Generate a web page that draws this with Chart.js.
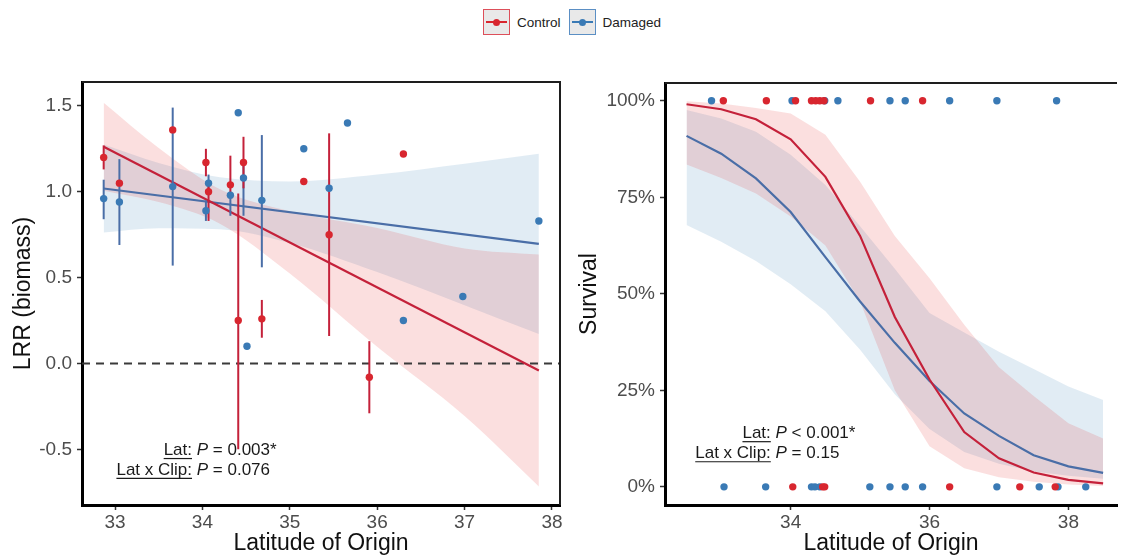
<!DOCTYPE html>
<html lang="en">
<head>
<meta charset="utf-8">
<title>Biomass response and survival by latitude of origin</title>
<script src="https://cdn.jsdelivr.net/npm/chart.js@4.4.1/dist/chart.umd.min.js"></script>
<style>
  html, body { margin: 0; padding: 0; background: #fff; }
  body { position: relative; width: 1121px; height: 558px; overflow: hidden; font-family: "Liberation Sans", Arial, sans-serif; }
  #lrr { position: absolute; left: 0; top: 60px; }
  #surv { position: absolute; left: 565px; top: 60px; }
  #legend { position: absolute; left: 483px; top: 9px; display: flex; align-items: center; height: 26px; }
  .key { position: relative; box-sizing: border-box; width: 27px; height: 26px; border: 1.5px solid; background: #e9e9e9; margin-right: 7px; }
  .key i { position: absolute; left: 2px; right: 2px; top: 50%; height: 2px; margin-top: -1px; }
  .key b { position: absolute; left: 50%; top: 50%; width: 7px; height: 7px; margin: -3.5px 0 0 -3.5px; border-radius: 50%; }
  .lab { font-size: 13.5px; color: #222; margin-right: 8px; }
</style>
</head>
<body>
<div id="legend">
  <span class="key" id="keyCtrl"><i></i><b></b></span><span class="lab">Control</span>
  <span class="key" id="keyDmg"><i></i><b></b></span><span class="lab">Damaged</span>
</div>
<canvas id="lrr" width="575" height="498"></canvas>
<canvas id="surv" width="556" height="498"></canvas>
<script>
// --- LRR (biomass) per site, with error bar limits (null = no bar) ---
const ctrlLat = [32.87, 33.05, 33.66, 34.04, 34.07, 34.32, 34.41, 34.47, 34.68, 35.16, 35.45, 35.91, 36.30];
const ctrlLRR = [1.20, 1.05, 1.36, 1.17, 1.00, 1.04, 0.25, 1.17, 0.26, 1.06, 0.75, -0.08, 1.22];
const ctrlLo  = [1.13, null, null, 1.09, 0.83, 0.98, -0.50, 1.02, 0.15, null, 0.16, -0.29, null];
const ctrlHi  = [1.27, null, null, 1.25, 1.06, 1.21, 0.99, 1.32, 0.37, null, 1.34, 0.13, null];

const dmgLat = [32.87, 33.05, 33.66, 34.04, 34.07, 34.32, 34.41, 34.47, 34.51, 34.68, 35.16, 35.45, 35.66, 36.30, 36.98, 37.85];
const dmgLRR = [0.96, 0.94, 1.03, 0.89, 1.05, 0.98, 1.46, 1.08, 0.10, 0.95, 1.25, 1.02, 1.40, 0.25, 0.39, 0.83];
const dmgLo  = [0.84, 0.69, 0.57, 0.83, 0.99, 0.86, null, 0.86, null, 0.56, null, null, null, null, null, null];
const dmgHi  = [1.07, 1.19, 1.49, 0.95, 1.10, 1.00, null, 1.16, null, 1.33, null, null, null, null, null, null];

// linear fits and their confidence bands
const fitLat  = [32.87, 37.85];
const ctrlFit = [1.262, -0.041];
const dmgFit  = [1.019, 0.696];
const bandLat    = [32.87, 33.5, 34.2, 35.0, 36.0, 37.0, 37.85];
const ctrlBandHi = [1.518, 1.254, 1.014, 0.886, 0.789, 0.670, 0.634];
const ctrlBandLo = [1.006, 0.940, 0.814, 0.524, 0.097, -0.306, -0.716];
const dmgBandHi  = [1.275, 1.168, 1.084, 1.060, 1.100, 1.163, 1.221];
const dmgBandLo  = [0.763, 0.788, 0.782, 0.702, 0.532, 0.339, 0.171];

// --- survival: individual outcomes (survived / died) by latitude ---
const ctrlAlive = [33.03, 33.65, 34.07, 34.30, 34.36, 34.42, 34.48, 35.15, 35.90];
const ctrlDead  = [34.03, 34.46, 34.49, 36.29, 37.30, 37.81];
const dmgAlive  = [32.86, 34.02, 34.49, 34.68, 35.43, 35.65, 36.29, 36.97, 37.83];
const dmgDead   = [33.04, 33.64, 34.30, 34.35, 34.42, 35.14, 35.43, 35.65, 35.90, 36.97, 37.58, 37.85, 38.25];

// predicted survival (%) with confidence bands
const survLat     = [32.5, 33, 33.5, 34, 34.5, 35, 35.5, 36, 36.5, 37, 37.5, 38, 38.5];
const ctrlSurv    = [99.1, 97.8, 95.2, 90.0, 80.3, 65.0, 44.0, 27.8, 14.2, 7.4, 3.7, 1.8, 0.9];
const ctrlSurvHi  = [99.9, 99.3, 98.1, 96.7, 91.2, 79.0, 65.0, 54.0, 42.0, 31.0, 23.5, 16.5, 12.5];
const ctrlSurvLo  = [83.5, 80.0, 76.0, 70.0, 62.5, 48.0, 25.0, 10.5, 4.8, 2.5, 1.3, 0.6, 0.25];
const dmgSurv     = [90.9, 86.3, 79.9, 71.2, 59.5, 48.0, 37.3, 27.4, 19.0, 13.2, 8.2, 5.3, 3.6];
const dmgSurvHi   = [97.6, 95.4, 92.0, 86.0, 78.2, 67.5, 56.5, 45.0, 40.0, 35.0, 30.5, 26.0, 22.5];
const dmgSurvLo   = [67.8, 63.5, 58.5, 52.5, 45.5, 35.5, 24.0, 15.0, 9.0, 6.0, 4.0, 2.9, 2.1];

// axis ticks
const lrrLatTicks  = [33, 34, 35, 36, 37, 38];
const lrrTicks     = [-0.5, 0, 0.5, 1, 1.5];
const survLatTicks = [34, 36, 38];
const survTicks    = [0, 25, 50, 75, 100];

// model test results
const lrrStats  = [['Lat:', '= 0.003*'], ['Lat x Clip:', '= 0.076']];
const survStats = [['Lat:', '< 0.001*'], ['Lat x Clip:', '= 0.15']];

const RED = '#d8262f', BLUE = '#3a7ab5';
const RED_LINE = '#c4213a', BLUE_LINE = '#4a6ea7';
const RED_FILL = 'rgba(228,26,28,0.14)', BLUE_FILL = 'rgba(55,126,184,0.15)';
const FAMILY = '"Liberation Sans", Arial, sans-serif';
const NOTE_FONT = '17px ' + FAMILY;

document.querySelector('#keyCtrl').style.borderColor = '#dd4f5a';
document.querySelector('#keyCtrl i').style.background = RED;
document.querySelector('#keyCtrl b').style.background = RED;
document.querySelector('#keyDmg').style.borderColor = '#5b8fc4';
document.querySelector('#keyDmg i').style.background = BLUE;
document.querySelector('#keyDmg b').style.background = BLUE;

const pts = (xs, ys) => xs.map((v, i) => ({x: v, y: ys[i]}));
const flat = (xs, val) => xs.map(v => ({x: v, y: val}));

function axis(o) {
  return {
    type: 'linear',
    min: o.min, max: o.max,
    afterBuildTicks: s => { s.ticks = o.ticks.map(v => ({value: v})); },
    afterFit: s => { if (s.isHorizontal()) s.height = o.size; else s.width = o.size; },
    border: {display: true, color: '#000', width: 3},
    grid: {drawOnChartArea: false, drawTicks: true, tickLength: 5, tickColor: '#333', tickWidth: 1.5},
    ticks: {color: '#4d4d4d', font: {family: FAMILY, size: 19}, padding: o.pad, callback: o.fmt, autoSkip: false, maxRotation: 0},
    title: {display: true, text: o.title, color: '#111', font: {family: FAMILY, size: 23}, padding: o.titlePad}
  };
}

function pointSet(label, data, color, order) {
  return {label, data, showLine: false, pointRadius: 3.7, pointBackgroundColor: color, pointBorderWidth: 0, order};
}
function lineSet(label, data, color, order, smooth) {
  return {label, data, borderColor: color, borderWidth: 2.2, pointRadius: 0, fill: false, order,
          cubicInterpolationMode: smooth ? 'monotone' : 'default', tension: 0};
}
function bandSet(label, data, fillColor, order, upper, smooth) {
  return {label, data, borderWidth: 0, borderColor: 'rgba(0,0,0,0)', pointRadius: 0, order,
          fill: upper ? '+1' : false, backgroundColor: fillColor,
          cubicInterpolationMode: smooth ? 'monotone' : 'default', tension: 0};
}

// vertical error bars, all drawn just before the first point layer
function errorBars(firstIndex, sets) {
  return {
    id: 'errorBars',
    beforeDatasetDraw(chart, args) {
      if (args.index !== firstIndex) return;
      const {ctx, scales: {x, y}} = chart;
      ctx.save();
      ctx.lineWidth = 2;
      sets.forEach(s => {
        ctx.strokeStyle = s.color;
        s.lat.forEach((lat, i) => {
          if (s.lo[i] == null) return;
          const px = x.getPixelForValue(lat);
          ctx.beginPath();
          ctx.moveTo(px, y.getPixelForValue(s.lo[i]));
          ctx.lineTo(px, y.getPixelForValue(s.hi[i]));
          ctx.stroke();
        });
      });
      ctx.restore();
    }
  };
}

// dashed reference line at LRR = 0
function zeroLine(beforeIndex) {
  return {
    id: 'zeroLine',
    beforeDatasetDraw(chart, args) {
      if (args.index !== beforeIndex) return;
      const {ctx, chartArea: a, scales: {y}} = chart;
      const py = y.getPixelForValue(0);
      ctx.save();
      ctx.strokeStyle = '#3a3a3a';
      ctx.lineWidth = 1.8;
      ctx.setLineDash([8, 6]);
      ctx.beginPath();
      ctx.moveTo(a.left, py);
      ctx.lineTo(a.right, py);
      ctx.stroke();
      ctx.restore();
    }
  };
}

// thin panel border on the top (and right) sides
function frame(withRight) {
  return {
    id: 'frame',
    afterDraw(chart) {
      const {ctx, chartArea: a} = chart;
      ctx.save();
      ctx.strokeStyle = '#1e1e1e';
      ctx.lineWidth = 2;
      ctx.beginPath();
      ctx.moveTo(a.left, a.top);
      ctx.lineTo(a.right, a.top);
      if (withRight) ctx.lineTo(a.right, a.bottom);
      ctx.stroke();
      ctx.restore();
    }
  };
}

// "term: P = value" lines, aligned on the colon
function statNotes(anchorX, rowsY, rows) {
  return {
    id: 'statNotes',
    afterDraw(chart) {
      const {ctx, scales: {x, y}} = chart;
      const ax = x.getPixelForValue(anchorX);
      ctx.save();
      ctx.fillStyle = '#1a1a1a';
      ctx.strokeStyle = '#1a1a1a';
      ctx.lineWidth = 1.2;
      ctx.textBaseline = 'middle';
      rows.forEach(([term, value], i) => {
        const py = y.getPixelForValue(rowsY[i]);
        ctx.font = NOTE_FONT;
        ctx.textAlign = 'right';
        const w = ctx.measureText(term).width;
        ctx.fillText(term, ax, py);
        ctx.beginPath();
        ctx.moveTo(ax - w, py + 8.5);
        ctx.lineTo(ax, py + 8.5);
        ctx.stroke();
        ctx.textAlign = 'left';
        let cx = ax + ctx.measureText(' ').width;
        ctx.font = 'italic ' + NOTE_FONT;
        ctx.fillText('P', cx, py);
        cx += ctx.measureText('P').width;
        ctx.font = NOTE_FONT;
        ctx.fillText(' ' + value, cx, py);
      });
      ctx.restore();
    }
  };
}

const common = {
  responsive: false,
  animation: false,
  devicePixelRatio: 1,
  events: [],
  plugins: {legend: {display: false}, tooltip: {enabled: false}}
};

new Chart(document.getElementById('lrr'), {
  type: 'line',
  data: {
    datasets: [
      pointSet('Control', pts(ctrlLat, ctrlLRR), RED, 1),
      pointSet('Damaged', pts(dmgLat, dmgLRR), BLUE, 2),
      lineSet('Control fit', pts(fitLat, ctrlFit), RED_LINE, 3, false),
      lineSet('Damaged fit', pts(fitLat, dmgFit), BLUE_LINE, 4, false),
      bandSet('Control upper', pts(bandLat, ctrlBandHi), RED_FILL, 5, true, true),
      bandSet('Control lower', pts(bandLat, ctrlBandLo), RED_FILL, 6, false, true),
      bandSet('Damaged upper', pts(bandLat, dmgBandHi), BLUE_FILL, 7, true, true),
      bandSet('Damaged lower', pts(bandLat, dmgBandLo), BLUE_FILL, 8, false, true)
    ]
  },
  options: {
    ...common,
    layout: {padding: {top: 22, right: 15, left: 0, bottom: 0}},
    scales: {
      x: axis({min: 32.622, max: 38.092, ticks: lrrLatTicks, size: 53, pad: 1, fmt: v => String(v),
               title: 'Latitude of Origin', titlePad: {bottom: 1}}),
      y: axis({min: -0.824, max: 1.639, ticks: lrrTicks, size: 82, pad: 5, fmt: v => v.toFixed(1),
               title: 'LRR (biomass)', titlePad: {top: 10}})
    }
  },
  plugins: [
    errorBars(1, [
      {lat: dmgLat, lo: dmgLo, hi: dmgHi, color: BLUE_LINE},
      {lat: ctrlLat, lo: ctrlLo, hi: ctrlHi, color: RED_LINE}
    ]),
    zeroLine(3),
    frame(true),
    statNotes(33.881, [-0.504, -0.620], lrrStats)
  ]
});

new Chart(document.getElementById('surv'), {
  type: 'line',
  data: {
    datasets: [
      pointSet('Control', [...flat(ctrlAlive, 100), ...flat(ctrlDead, 0)], RED, 1),
      pointSet('Damaged', [...flat(dmgAlive, 100), ...flat(dmgDead, 0)], BLUE, 2),
      lineSet('Control fit', pts(survLat, ctrlSurv), RED_LINE, 3, false),
      lineSet('Damaged fit', pts(survLat, dmgSurv), BLUE_LINE, 4, false),
      bandSet('Control upper', pts(survLat, ctrlSurvHi), RED_FILL, 5, true, false),
      bandSet('Control lower', pts(survLat, ctrlSurvLo), RED_FILL, 6, false, false),
      bandSet('Damaged upper', pts(survLat, dmgSurvHi), BLUE_FILL, 7, true, false),
      bandSet('Damaged lower', pts(survLat, dmgSurvLo), BLUE_FILL, 8, false, false)
    ]
  },
  options: {
    ...common,
    layout: {padding: {top: 23, right: 0, left: 0, bottom: 0}},
    scales: {
      x: axis({min: 32.19, max: 38.70, ticks: survLatTicks, size: 53, pad: 1, fmt: v => String(v),
               title: 'Latitude of Origin', titlePad: {bottom: 1}}),
      y: axis({min: -4.7, max: 104.6, ticks: survTicks, size: 100, pad: 5, fmt: v => v + '%',
               title: 'Survival', titlePad: {top: 11}})
    }
  },
  plugins: [
    frame(false),
    statNotes(33.714, [13.9, 8.7], survStats)
  ]
});
</script>
</body>
</html>
